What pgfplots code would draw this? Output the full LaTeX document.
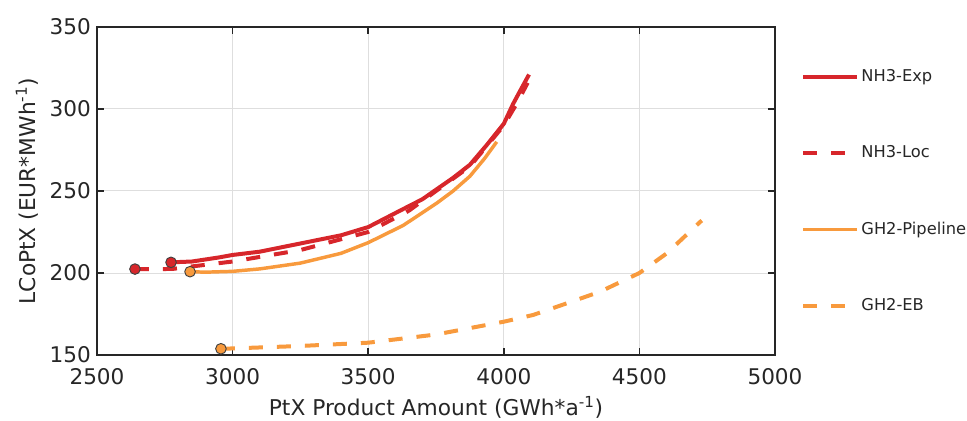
\documentclass[border=0pt]{standalone}
\usepackage{fontspec}
\setmainfont{DejaVu Sans}
\usepackage{pgfplots}
\pgfplotsset{compat=1.18}
\definecolor{nhred}{HTML}{D7262B}
\definecolor{ghorange}{HTML}{F89A3D}
\definecolor{txt}{HTML}{262626}
\begin{document}
\begin{tikzpicture}
\useasboundingbox (-72.75pt,-49.5pt) rectangle (652.5pt,266.25pt);
\begin{axis}[
  at={(0pt,0pt)}, anchor=south west,
  scale only axis, width=508.5pt, height=246pt,
  xmin=2500, xmax=5000, ymin=150, ymax=350,
  xtick={2500,3000,...,5000}, ytick={150,200,...,350},
  tick align=inside, major tick length=5pt,
  grid=major, major grid style={draw=black!13, line width=0.75pt},
  axis line style={draw=txt, line width=1.1pt},
  tick style={draw=txt, line width=1.1pt},
  every tick label/.append style={font=\fontsize{16.2}{19}\selectfont, text=txt},
  xticklabel style={yshift=-6.5pt},
  yticklabel style={xshift=-1pt},
  /pgf/number format/assume math mode=true,
  /pgf/number format/1000 sep={},
  xlabel={PtX Product Amount (GWh*a\textsuperscript{-1})},
  ylabel={LCoPtX (EUR*MWh\textsuperscript{-1})},
  label style={font=\fontsize{16.3}{19}\selectfont, text=txt},
  xlabel style={at={(axis description cs:0.5,-0.159)}, anchor=center},
  ylabel style={at={(axis description cs:-0.1032,0.5)}, anchor=center},
  legend style={at={(rel axis cs:1,1)}, anchor=north west, xshift=16.5pt, yshift=-29.8pt,
    draw=none, fill=none, font=\fontsize{12.2}{14}\selectfont, text=txt,
    row sep=46.6pt, nodes={inner sep=0pt},
    /tikz/every odd column/.append style={column sep=1.6pt}},
  legend image code/.code={\draw[#1] (0pt,0pt) -- (40.5pt,0pt);},
  legend cell align=left,
  every axis plot/.append style={line width=3pt, line join=round},
]
\addplot[nhred, mark=*, mark indices={1}, mark size=4pt,
  mark options={solid, fill=nhred, draw=black!75, line width=0.7pt}] coordinates {
(2773,206.5) (2850,207) (2950,209.5) (3000,211) (3100,213) (3250,218) (3400,223)
(3500,228) (3629,239) (3700,245) (3752,251) (3813,258) (3875,266) (3937,278)
(4000,291) (4034,303) (4060,311) (4093,321)};
\addplot[nhred, dash pattern=on 10.5pt off 10.5pt, mark=*, mark indices={1}, mark size=4pt,
  mark options={solid, fill=nhred, draw=black!75, line width=0.7pt}] coordinates {
(2640,202.4) (2700,202.3) (2780,202.5) (2850,204) (3000,207) (3250,214) (3500,225)
(3650,238) (3750,250) (3875,265) (3950,280) (4000,290) (4050,304) (4088,316)};
\addplot[ghorange, line width=2.6pt, mark=*, mark indices={1}, mark size=4pt,
  mark options={solid, fill=ghorange, draw=black!75, line width=0.7pt}] coordinates {
(2843,200.8) (2900,200.5) (3000,201) (3100,202.5) (3249,206) (3400,212) (3500,218.5)
(3629,229) (3752,242.5) (3813,250) (3875,259) (3930,270) (3974,280)};
\addplot[ghorange, dash pattern=on 10.5pt off 10.5pt, mark=*, mark indices={1}, mark size=4pt,
  mark options={solid, fill=ghorange, draw=black!75, line width=0.7pt}] coordinates {
(2957,153.8) (3000,154) (3250,155.5) (3500,157.5) (3750,162.5) (4000,170.3)
(4108,174.4) (4232,181.5) (4355,188.6) (4500,200) (4601,212) (4723,231) (4730,232)};
\legend{NH3-Exp,NH3-Loc,GH2-Pipeline,GH2-EB}
\end{axis}
\end{tikzpicture}
\end{document}
